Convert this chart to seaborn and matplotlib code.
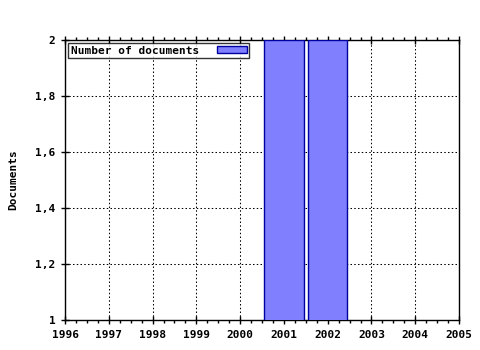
import matplotlib
matplotlib.use("Agg")
import matplotlib.pyplot as plt
import seaborn as sns
import pandas as pd
from matplotlib.ticker import FuncFormatter, AutoMinorLocator

years = [2001, 2002]
documents = [2, 2]
series_label = "Number of documents"
x_ticks = list(range(1996, 2006))
y_ticks = [1, 1.2, 1.4, 1.6, 1.8, 2]

sns.set_style("white")
plt.rcParams['font.family'] = ['DejaVu Sans Mono']
plt.rcParams['font.weight'] = 'bold'
for k in ['text.color', 'axes.labelcolor', 'xtick.color', 'ytick.color']:
    plt.rcParams[k] = 'black'

df = pd.DataFrame({"year": years, "docs": documents})

fig = plt.figure(figsize=(4.8, 3.5), dpi=100)
ax = fig.add_axes([65/480, 30/350, 394/480, 280/350])

sns.barplot(data=df, x="year", y="docs", native_scale=True, width=0.9,
            color="#8080ff", saturation=1, edgecolor="#0000a0", linewidth=1,
            ax=ax, label=series_label, zorder=3)

ax.set_xlim(1996, 2005)
ax.set_ylim(1, 2)
ax.set_xticks(x_ticks)
ax.set_xticklabels([str(y) for y in x_ticks], fontsize=8, fontweight='bold')
ax.set_yticks(y_ticks)
ax.yaxis.set_major_formatter(FuncFormatter(lambda v, p: f"{v:g}".replace('.', ',')))
for lab in ax.get_yticklabels():
    lab.set_fontsize(8)
    lab.set_fontweight('bold')
ax.xaxis.set_minor_locator(AutoMinorLocator(4))
ax.tick_params(axis='x', which='major', direction='inout', length=6, width=1, top=True, bottom=True, color='black', pad=4)
ax.tick_params(axis='x', which='minor', direction='out', length=2, width=1, top=True, bottom=True, color='black')
ax.tick_params(axis='y', which='major', direction='inout', length=6, width=1, left=True, right=False, color='black', pad=4)

ax.grid(True, which='major', color='black', linestyle=(0, (1.44, 2.16)), linewidth=0.75, zorder=0)
ax.set_axisbelow(True)
for s in ax.spines.values():
    s.set_color('black')
    s.set_linewidth(1)

ax.set_xlabel("")
ax.set_ylabel("Documents", fontsize=8, fontweight='bold', labelpad=12)

leg = ax.legend(loc='upper left', markerfirst=False, frameon=True, fancybox=False,
                edgecolor='black', fontsize=8, borderpad=0.2, handlelength=2.7,
                handleheight=0.6, borderaxespad=0.3, handletextpad=1.6)
leg.get_frame().set_linewidth(1)
for t in leg.get_texts():
    t.set_fontweight('bold')

fig.savefig("out.png", dpi=100)
